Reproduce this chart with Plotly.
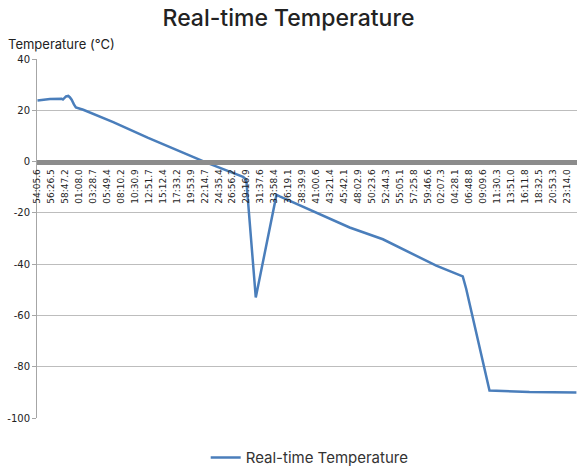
import plotly.graph_objects as go

# Elapsed seconds since first sample, and temperature (°C)
elapsed_s = [0, 126, 244, 257, 288, 311, 328, 345, 368, 388, 462, 765, 1118, 1707,
             2077, 2109, 2205, 2414, 2447, 3153, 3489, 4028, 4296, 4331, 4566, 4667, 4970, 5444]
temperature = [23.8, 24.4, 24.5, 24.2, 25.4, 25.6, 25.0, 24.1, 22.3, 21.1, 20.2, 15.4, 9.2, -0.4,
               -6.0, -7.0, -53.0, -13.0, -13.6, -25.7, -30.3, -40.6, -44.8, -49.7, -89.3, -89.5, -89.9, -90.1]

tick_labels = ["54:05.6", "56:26.5", "58:47.2", "01:08.0", "03:28.7", "05:49.4", "08:10.2",
               "10:30.9", "12:51.7", "15:12.4", "17:33.2", "19:53.9", "22:14.7", "24:35.4",
               "26:56.2", "29:16.9", "31:37.6", "33:58.4", "36:19.1", "38:39.9", "41:00.6",
               "43:21.4", "45:42.1", "48:02.9", "50:23.6", "52:44.3", "55:05.1", "57:25.8",
               "59:46.6", "02:07.3", "04:28.1", "06:48.8", "09:09.6", "11:30.3", "13:51.0",
               "16:11.8", "18:32.5", "20:53.3", "23:14.0"]
tick_step_s = 140.75
tick_vals = [i * tick_step_s for i in range(len(tick_labels))]

y_tick_vals = [-100, -80, -60, -40, -20, 0, 20, 40]
y_tick_labels = ["-100", "-80", "-60", "-40", "-20", "0", "20", "40"]

y_min, y_max = -100, 40

fig = go.Figure()
fig.add_trace(go.Scatter(
    x=elapsed_s, y=temperature, mode="lines", name="Real-time Temperature",
    line=dict(color="#4a7ebb", width=2.5),
))

fig.update_layout(
    width=577, height=469,
    margin=dict(l=37, r=0, t=59, b=51, autoexpand=False),
    paper_bgcolor="white", plot_bgcolor="white",
    font=dict(family="DejaVu Sans", color="#333333"),
    title=dict(text="Real-time Temperature", x=0.5, xanchor="center", y=0.962, yanchor="middle",
               font=dict(family="Inter", size=23, color="#222222", weight=500)),
    showlegend=True,
    legend=dict(orientation="h", x=0.505, xanchor="center", y=-0.111, yanchor="middle",
                font=dict(family="Inter", size=15, color="#333333")),
    xaxis=dict(
        range=[-5, 5450], anchor="free", position=(0 - y_min) / (y_max - y_min),
        tickmode="array", tickvals=tick_vals, ticktext=tick_labels, tickangle=-90,
        tickfont=dict(family="DejaVu Sans", size=9, color="#222222"),
        showgrid=False, zeroline=False, showline=True, linecolor="#8c8c8c", linewidth=5,
        ticks="", ticklabelstandoff=1,
    ),
    yaxis=dict(
        range=[y_min, y_max], tickmode="array", tickvals=y_tick_vals, ticktext=y_tick_labels,
        showgrid=True, gridcolor="#bdbdbd", gridwidth=1,
        zeroline=False, showline=True, linecolor="#a6a6a6", linewidth=1,
        ticks="outside", ticklen=4, tickcolor="#a6a6a6",
        tickfont=dict(family="DejaVu Sans", size=10, color="#222222"),
    ),
)

fig.add_annotation(text="Temperature (°C)", xref="paper", yref="paper",
                   x=(6 - 37) / 540, y=1.0 + 15 / 359, xanchor="left", yanchor="middle",
                   showarrow=False, font=dict(family="Inter", size=13, color="#222222"))

fig.write_html("out.html", config={"displayModeBar": False},
               post_script="document.body.style.margin='0';")
